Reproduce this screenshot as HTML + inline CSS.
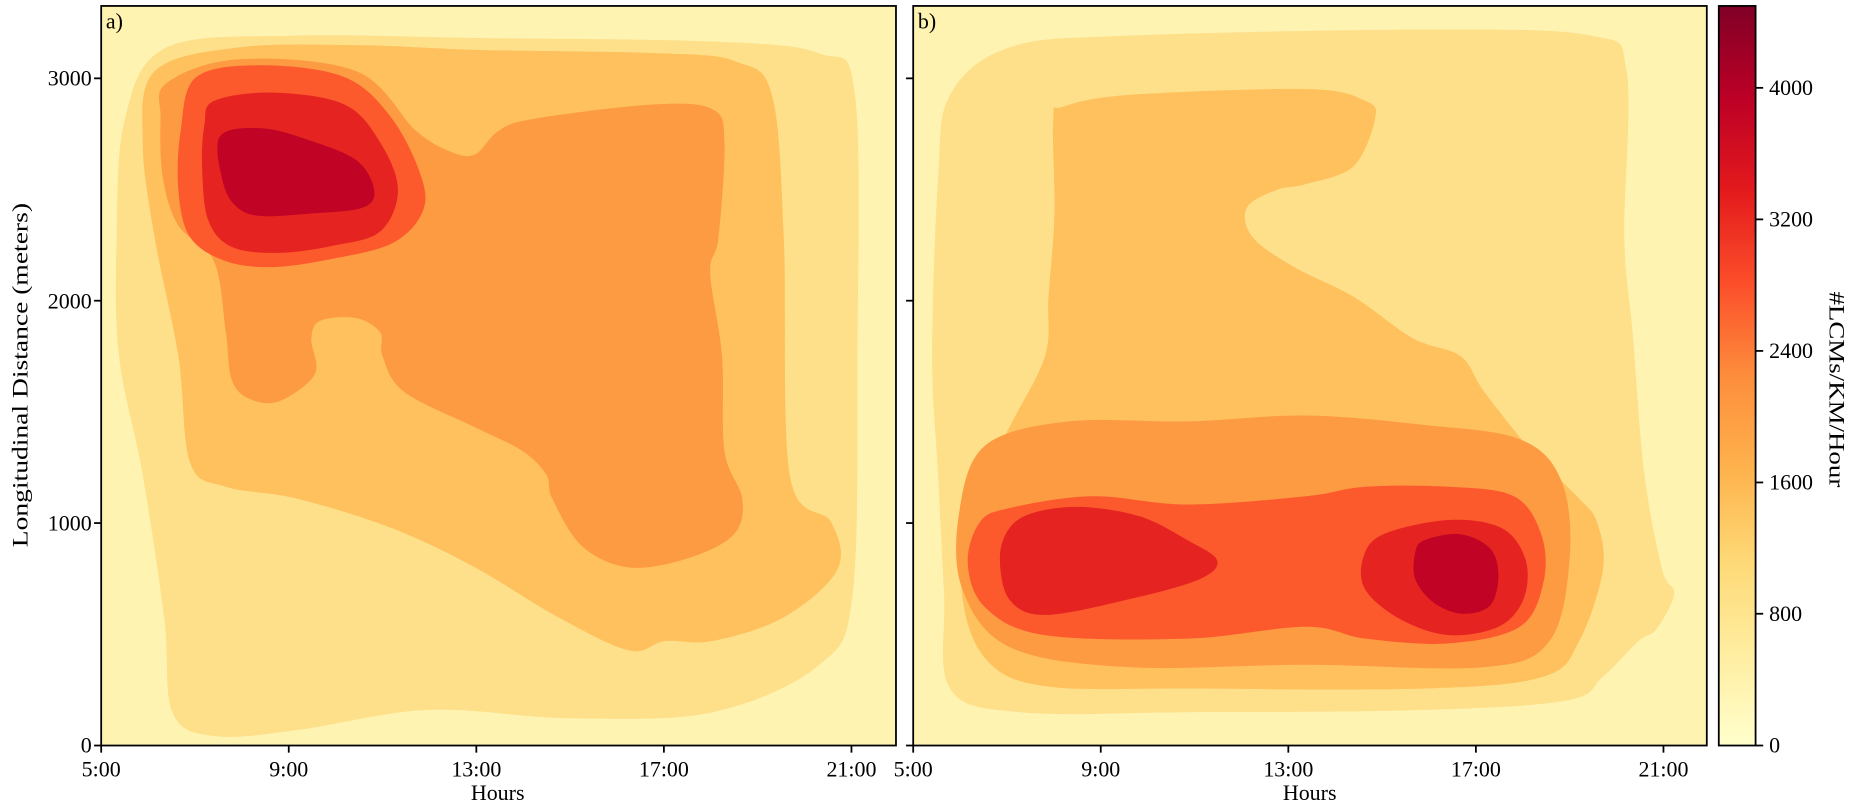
<!DOCTYPE html>
<html><head><meta charset="utf-8"><style>
html,body{margin:0;padding:0;background:#fff}
svg{display:block}
text{font-family:"Liberation Serif",serif;fill:#000}
</style></head><body>
<svg id="s" width="1862" height="812" viewBox="0 0 1568 684" xmlns="http://www.w3.org/2000/svg">
<defs>
<clipPath id="ca"><rect x="85" y="5" width="669.5" height="623"/></clipPath>
<clipPath id="cb"><rect x="769" y="5" width="668.5" height="623"/></clipPath>
<linearGradient id="g" x1="0" y1="1" x2="0" y2="0">
<stop offset="0" stop-color="#ffffcc"/><stop offset=".125" stop-color="#ffeda0"/><stop offset=".25" stop-color="#fed976"/><stop offset=".375" stop-color="#feb24c"/><stop offset=".5" stop-color="#fd8d3c"/><stop offset=".625" stop-color="#fc4e2a"/><stop offset=".75" stop-color="#e31a1c"/><stop offset=".875" stop-color="#bd0026"/><stop offset="1" stop-color="#800026"/>
</linearGradient>
</defs>
<g clip-path="url(#ca)"><rect x="85" y="5" width="670" height="623" fill="#fff3b2"/><g id="A"></g></g>
<g clip-path="url(#cb)"><rect x="769" y="5" width="669" height="623" fill="#fff3b2"/><g id="B"></g></g>
<rect x="85" y="5" width="669.5" height="623" fill="none" stroke="#000" stroke-width="1.5"/>
<rect x="769" y="5" width="668.5" height="623" fill="none" stroke="#000" stroke-width="1.5"/>
<rect x="1447.6" y="5" width="31" height="623" fill="url(#g)" stroke="#000" stroke-width="1.5"/>
<g stroke="#000" stroke-width="1.5">
<line x1="79" y1="628" x2="85" y2="628"/><line x1="79" y1="440.6" x2="85" y2="440.6"/><line x1="79" y1="253.3" x2="85" y2="253.3"/><line x1="79" y1="66" x2="85" y2="66"/>
<line x1="763" y1="628" x2="769" y2="628"/><line x1="763" y1="440.6" x2="769" y2="440.6"/><line x1="763" y1="253.3" x2="769" y2="253.3"/><line x1="763" y1="66" x2="769" y2="66"/>
<line x1="85" y1="628" x2="85" y2="634"/><line x1="243" y1="628" x2="243" y2="634"/><line x1="401" y1="628" x2="401" y2="634"/><line x1="559" y1="628" x2="559" y2="634"/><line x1="717" y1="628" x2="717" y2="634"/>
<line x1="769" y1="628" x2="769" y2="634"/><line x1="927" y1="628" x2="927" y2="634"/><line x1="1085" y1="628" x2="1085" y2="634"/><line x1="1243" y1="628" x2="1243" y2="634"/><line x1="1401" y1="628" x2="1401" y2="634"/>
<line x1="1478.6" y1="628" x2="1485" y2="628"/><line x1="1478.6" y1="517" x2="1485" y2="517"/><line x1="1478.6" y1="406.4" x2="1485" y2="406.4"/><line x1="1478.6" y1="295.6" x2="1485" y2="295.6"/><line x1="1478.6" y1="184.8" x2="1485" y2="184.8"/><line x1="1478.6" y1="74" x2="1485" y2="74"/>
</g>
<g font-size="18.5" text-anchor="end">
<text x="77" y="634">0</text><text x="77" y="447">1000</text><text x="77" y="260">2000</text><text x="77" y="72">3000</text>
</g>
<g font-size="18.5" text-anchor="middle">
<text x="85" y="654">5:00</text><text x="243" y="654">9:00</text><text x="401" y="654">13:00</text><text x="559" y="654">17:00</text><text x="717" y="654">21:00</text>
<text x="769" y="654">5:00</text><text x="927" y="654">9:00</text><text x="1085" y="654">13:00</text><text x="1243" y="654">17:00</text><text x="1401" y="654">21:00</text>
<text x="419" y="674">Hours</text><text x="1103" y="674">Hours</text>
</g>
<g font-size="18.5">
<text x="1490" y="634">0</text><text x="1490" y="523">800</text><text x="1490" y="412.4">1600</text><text x="1490" y="301.6">2400</text><text x="1490" y="190.8">3200</text><text x="1490" y="80">4000</text>
<text x="89" y="24">a)</text><text x="773" y="24">b)</text>
</g>
<text font-size="18.5" text-anchor="middle" textLength="290" lengthAdjust="spacingAndGlyphs" transform="translate(23,316) rotate(-90)">Longitudinal Distance (meters)</text>
<text font-size="18.5" text-anchor="middle" textLength="165" lengthAdjust="spacingAndGlyphs" transform="translate(1541,328) rotate(90)">#LCMs/KM/Hour</text>
</svg>
<script>
function sm(p){var n=p.length,d="M"+p[0][0]+","+p[0][1];for(var i=0;i<n;i++){var p0=p[(i-1+n)%n],p1=p[i],p2=p[(i+1)%n],p3=p[(i+2)%n];
var c1x=p1[0]+(p2[0]-p0[0])/6,c1y=p1[1]+(p2[1]-p0[1])/6,c2x=p2[0]-(p3[0]-p1[0])/6,c2y=p2[1]-(p3[1]-p1[1])/6;
d+=" C"+c1x.toFixed(1)+","+c1y.toFixed(1)+" "+c2x.toFixed(1)+","+c2y.toFixed(1)+" "+p2[0]+","+p2[1];}return d+"Z";}
function add(g,pts,c){var e=document.createElementNS("http://www.w3.org/2000/svg","path");e.setAttribute("d",sm(pts));e.setAttribute("fill",c);document.getElementById(g).appendChild(e);}
var C=["#fedf8a","#fec15d","#fd9b42","#fc5a2d","#e52421","#c10325"];
add("A",[[140,40],[250,30],[400,32],[600,35],[690,45],[720,80],[722,300],[718,500],[690,560],[600,600],[480,605],[360,598],[250,615],[180,620],[145,600],[138,520],[120,400],[100,300],[98,200],[105,100]],C[0]);
add("A",[[130,60],[200,40],[300,38],[400,42],[560,45],[620,52],[650,80],[660,200],[665,400],[700,440],[705,480],[660,520],[600,540],[560,540],[530,548],[470,520],[400,478],[330,445],[250,420],[190,410],[160,390],[150,300],[130,200],[120,120]],C[1]);
add("A",[[140,70],[200,50],[300,60],[350,110],[380,128],[400,130],[420,110],[450,100],[550,88],[600,92],[610,120],[605,200],[598,230],[608,300],[610,380],[625,420],[618,450],[580,470],[530,478],[490,460],[465,420],[460,400],[440,380],[400,360],[340,330],[322,300],[320,280],[300,268],[270,270],[262,285],[265,315],[235,338],[210,336],[195,320],[190,280],[180,220],[150,190],[137,150],[135,100]],C[2]);
add("A",[[165,65],[220,55],[290,65],[330,100],[355,150],[355,180],[330,205],[280,218],[230,225],[190,220],[160,200],[150,160],[152,110]],C[3]);
add("A",[[180,85],[230,78],[290,88],[320,120],[335,160],[320,195],[280,207],[235,213],[195,208],[175,185],[170,140],[172,105]],C[4]);
add("A",[[185,115],[220,108],[260,118],[300,135],[315,160],[305,175],[260,180],[220,182],[200,175],[188,155]],C[5]);
add("B",[[800,80],[850,40],[950,30],[1200,25],[1340,30],[1370,60],[1368,200],[1375,280],[1385,400],[1400,480],[1410,500],[1395,530],[1380,540],[1350,570],[1320,590],[1200,598],[1000,600],[860,600],[800,580],[795,500],[790,400],[785,300],[790,150]],C[0]);
add("B",[[895,90],[950,80],[1100,75],[1150,85],[1158,100],[1140,140],[1100,155],[1075,160],[1050,175],[1055,200],[1090,225],[1140,250],[1190,285],[1230,300],[1250,330],[1290,380],[1330,420],[1345,440],[1350,480],[1330,540],[1300,570],[1200,580],[1000,580],[880,578],[830,555],[810,500],[815,430],[850,360],[880,300],[883,250],[888,180],[887,100]],C[1]);
add("B",[[830,375],[900,355],[1000,355],[1100,350],[1200,358],[1280,370],[1315,405],[1322,470],[1305,540],[1250,562],[1100,560],[950,562],[850,545],[810,495],[808,430]],C[2]);
add("B",[[850,428],[920,418],[1000,425],[1100,418],[1150,410],[1220,410],[1275,418],[1298,450],[1300,490],[1280,528],[1220,542],[1150,538],[1100,528],[1000,538],[880,535],[830,512],[815,475],[825,440]],C[3]);
add("B",[[870,432],[910,427],[960,435],[1000,455],[1025,472],[1010,488],[950,505],[880,518],[850,505],[842,470],[850,445]],C[4]);
add("B",[[1165,450],[1220,438],[1265,445],[1285,472],[1283,505],[1262,528],[1220,535],[1180,522],[1150,497],[1148,470]],C[4]);
add("B",[[1200,455],[1230,450],[1255,462],[1262,485],[1255,510],[1232,517],[1208,508],[1192,488],[1192,465]],C[5]);
</script>
</body></html>
